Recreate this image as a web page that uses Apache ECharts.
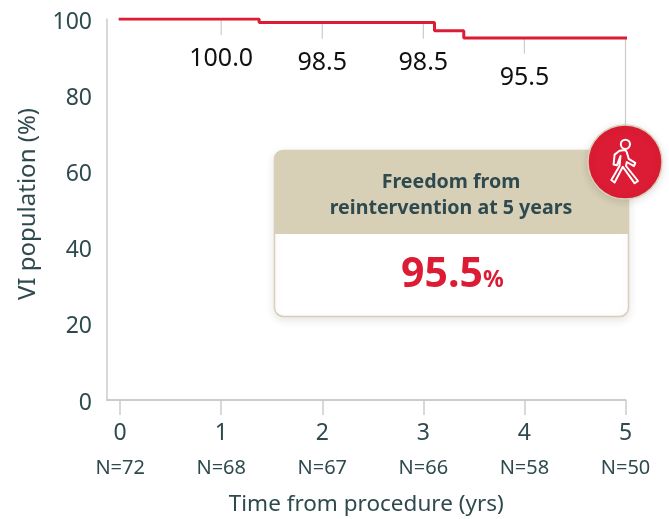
<!DOCTYPE html>
<html><head><meta charset="utf-8">
<style>html,body{margin:0;padding:0;background:#fff}#c{width:669px;height:519px}</style>
<script src="https://cdn.jsdelivr.net/npm/echarts@6/dist/echarts.min.js"></script>
</head><body><div id="c"></div>
<script>
const stepTimes = [0, 1.375, 3.11, 3.4, 5];
const stepValues = [100, 99.1, 96.9, 95, 95];
const years = [0, 1, 2, 3, 4, 5];
const atRisk = ['N=72', 'N=68', 'N=67', 'N=66', 'N=58', 'N=50'];
const markYears = [1, 2, 3, 4, 5];
const markTops = [100, 99.1, 99.1, 95, 95];
const markBottoms = [95.8, 94.8, 94.8, 90.9, 70.9];
const markLabels = ['100.0', '98.5', '98.5', '95.5', ''];
const yTicks = [0, 20, 40, 60, 80, 100];
const INK = '#2f4a4e', RED = '#dc1b34', TAN = '#d8cfb7', GRAY = '#cbcbcb';
const FONT = '"Noto Sans", sans-serif';
const chart = echarts.init(document.getElementById('c'));
chart.setOption({
  animation: false,
  backgroundColor: '#fff',
  textStyle: {fontFamily: FONT},
  grid: {left: 107, right: 43.5, top: 19, bottom: 119, outerBoundsMode: 'none'},
  xAxis: {
    type: 'value', min: -0.13, max: 5,
    name: 'Time from procedure (yrs)', nameLocation: 'middle', nameGap: 93,
    nameTextStyle: {color: INK, fontSize: 22.5, fontFamily: FONT},
    splitLine: {show: false},
    axisLine: {show: true, onZero: false, lineStyle: {color: GRAY, width: 2}},
    axisTick: {show: true, length: 15, customValues: years, lineStyle: {color: GRAY, width: 1.5}},
    axisLabel: {
      customValues: years, margin: 15, hideOverlap: false, showMinLabel: true, showMaxLabel: true,
      formatter: v => `{a|${v}}\n{b|${atRisk[years.indexOf(v)]}}`,
      rich: {
        a: {color: INK, fontSize: 23, lineHeight: 36, fontFamily: FONT},
        b: {color: INK, fontSize: 20, lineHeight: 34, fontFamily: FONT}
      }
    }
  },
  yAxis: {
    type: 'value', min: 0, max: 100, interval: 20,
    name: '{n|VI population (%)}', nameLocation: 'middle', nameGap: 67, nameRotate: 90,
    nameTextStyle: {rich: {n: {color: INK, fontSize: 24, fontFamily: FONT, padding: [0, 0, 0, 11]}}},
    splitLine: {show: false},
    axisTick: {show: false},
    axisLine: {show: true, onZero: false, lineStyle: {color: GRAY, width: 1.5}},
    axisLabel: {customValues: yTicks, margin: 15, formatter: '{a|{value}}',
      rich: {a: {color: INK, fontSize: 23, fontFamily: FONT, padding: [6, 0, 0, 0]}}}
  },
  series: [
    {
      type: 'custom', coordinateSystem: 'cartesian2d', z: 1, silent: true,
      data: markYears.map((t, i) => [t, markTops[i], markBottoms[i]]),
      encode: {x: 0, y: [1, 2]},
      renderItem(params, api) {
        const a = api.coord([api.value(0), api.value(1)]);
        const b = api.coord([api.value(0), api.value(2)]);
        const text = markLabels[params.dataIndex];
        return {type: 'group', children: [
          {type: 'line', shape: {x1: a[0], y1: a[1], x2: b[0], y2: b[1]}, style: {stroke: GRAY, lineWidth: 1.2}},
          {type: 'text', style: {text, x: a[0], y: b[1] + 24, textAlign: 'center', textVerticalAlign: 'middle',
            fill: '#111', font: '25px ' + FONT}}
        ]};
      }
    },
    {
      type: 'line', step: 'end', showSymbol: false, z: 3, silent: true,
      lineStyle: {color: RED, width: 3, cap: 'square'},
      data: stepTimes.map((t, i) => [t, stepValues[i]])
    }
  ],
  graphic: [
    {type: 'rect', z: 10, shape: {x: 274.5, y: 150.5, width: 354, height: 166, r: 9},
      style: {fill: '#fff', stroke: TAN, lineWidth: 1.5, shadowBlur: 10, shadowColor: 'rgba(0,0,0,0.10)', shadowOffsetY: 3}},
    {type: 'rect', z: 11, shape: {x: 274, y: 150, width: 355, height: 84, r: [9, 9, 0, 0]}, style: {fill: TAN}},
    {type: 'text', z: 12, style: {text: 'Freedom from', x: 451, y: 182, textAlign: 'center', textVerticalAlign: 'middle',
      fill: INK, font: 'bold 19.6px ' + FONT}},
    {type: 'text', z: 12, style: {text: 'reintervention at 5 years', x: 451, y: 208, textAlign: 'center', textVerticalAlign: 'middle',
      fill: INK, font: 'bold 19.6px ' + FONT}},
    {type: 'text', z: 12, style: {text: '95.5', x: 483, y: 275, textAlign: 'right', textVerticalAlign: 'middle',
      fill: RED, font: 'bold 41px ' + FONT}},
    {type: 'text', z: 12, style: {text: '%', x: 483, y: 280, textAlign: 'left', textVerticalAlign: 'middle',
      fill: RED, font: 'bold 23px ' + FONT}},
    {type: 'circle', z: 13, shape: {cx: 625, cy: 162, r: 37},
      style: {fill: RED, stroke: TAN, lineWidth: 1.5, shadowBlur: 8, shadowColor: 'rgba(0,0,0,0.12)', shadowOffsetY: 2}},
    {type: 'circle', z: 14, shape: {cx: 625.4, cy: 144.3, r: 4.6}, style: {fill: 'none', stroke: '#fff', lineWidth: 2}},
    {type: 'polygon', z: 14, shape: {points: [[619.5,150.8],[625.4,150],[626.8,152.2],[628.7,158.8],[635.3,162.8],[634,166.1],[626.8,162],[626,166],[638,181],[634.7,183.3],[622.8,166.8],[614.6,182.5],[611.3,180],[619.5,166],[620.5,156],[616.9,165.4],[613.6,164.5],[614.6,154.6]]},
      style: {fill: 'none', stroke: '#fff', lineWidth: 2, lineJoin: 'round'}}
  ]
});
</script></body></html>
